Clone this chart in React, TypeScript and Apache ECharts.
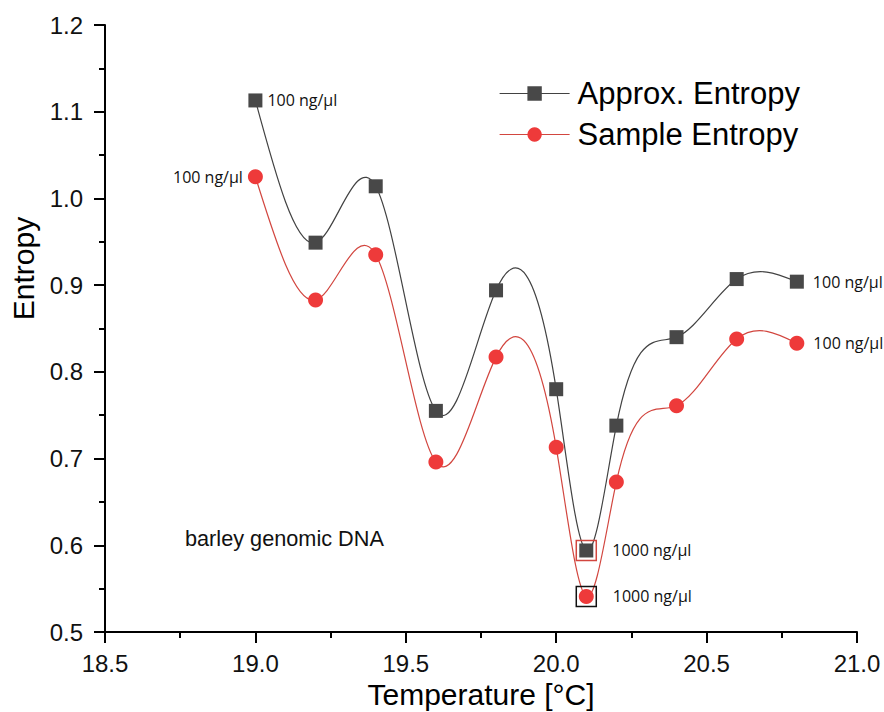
import React, { useEffect, useRef } from "react";
import * as echarts from "echarts";

const temperature = [19.0, 19.2, 19.4, 19.6, 19.8, 20.0, 20.1, 20.2, 20.4, 20.6, 20.8];
const approxEntropy = [1.113, 0.949, 1.014, 0.755, 0.894, 0.78, 0.594, 0.738, 0.84, 0.907, 0.904];
const sampleEntropy = [1.025, 0.883, 0.935, 0.696, 0.817, 0.713, 0.541, 0.673, 0.761, 0.838, 0.833];
const xTicks = [18.5, 21.0, 0.5];
const yTicks = [0.5, 1.2, 0.1];

// point annotations: [index, text, position, distance]
const approxNotes: [number, string, string, number][] = [
  [0, "100 ng/μl", "right", 5],
  [6, "1000 ng/μl", "right", 19],
  [10, "100 ng/μl", "right", 9],
];
const sampleNotes: [number, string, string, number][] = [
  [0, "100 ng/μl", "left", 5],
  [6, "1000 ng/μl", "right", 19],
  [10, "100 ng/μl", "right", 9],
];

const APPROX_LINE = "#424242";
const APPROX_MARK = "#484848";
const SAMPLE_LINE = "#D2463F";
const SAMPLE_MARK = "#EE3A3A";
const FONT = "Liberation Sans, Arial, sans-serif";

function splineSegments(xs: number[], ys: number[]) {
  const n = xs.length;
  const h: number[] = [];
  for (let i = 0; i < n - 1; i++) h.push(xs[i + 1] - xs[i]);
  const a: number[] = new Array(n).fill(0);
  const b: number[] = new Array(n).fill(1);
  const c: number[] = new Array(n).fill(0);
  const d: number[] = new Array(n).fill(0);
  for (let i = 1; i < n - 1; i++) {
    a[i] = h[i - 1];
    b[i] = 2 * (h[i - 1] + h[i]);
    c[i] = h[i];
    d[i] = 6 * ((ys[i + 1] - ys[i]) / h[i] - (ys[i] - ys[i - 1]) / h[i - 1]);
  }
  const cp: number[] = new Array(n).fill(0);
  const dp: number[] = new Array(n).fill(0);
  cp[0] = c[0] / b[0];
  dp[0] = d[0] / b[0];
  for (let i = 1; i < n; i++) {
    const m = b[i] - a[i] * cp[i - 1];
    cp[i] = c[i] / m;
    dp[i] = (d[i] - a[i] * dp[i - 1]) / m;
  }
  const M: number[] = new Array(n).fill(0);
  M[n - 1] = dp[n - 1];
  for (let i = n - 2; i >= 0; i--) M[i] = dp[i] - cp[i] * M[i + 1];
  const segs: number[][] = [];
  for (let i = 0; i < n - 1; i++) {
    const hi = h[i];
    const slope = (ys[i + 1] - ys[i]) / hi;
    const s0 = slope - (hi * (2 * M[i] + M[i + 1])) / 6;
    const s1 = slope + (hi * (M[i] + 2 * M[i + 1])) / 6;
    segs.push([xs[i], ys[i], xs[i + 1], ys[i + 1], s0, s1]);
  }
  return segs;
}

function curveSeries(ys: number[], color: string, width: number) {
  return {
    type: "custom",
    z: 1,
    silent: true,
    encode: { x: [0, 2], y: [1, 3] },
    data: splineSegments(temperature, ys),
    renderItem: (_params: any, api: any) => {
      const x0 = api.value(0);
      const y0 = api.value(1);
      const x1 = api.value(2);
      const y1 = api.value(3);
      const s0 = api.value(4);
      const s1 = api.value(5);
      const hh = x1 - x0;
      const p0 = api.coord([x0, y0]);
      const c1 = api.coord([x0 + hh / 3, y0 + (s0 * hh) / 3]);
      const c2 = api.coord([x1 - hh / 3, y1 - (s1 * hh) / 3]);
      const p1 = api.coord([x1, y1]);
      return {
        type: "bezierCurve",
        shape: {
          x1: p0[0], y1: p0[1],
          cpx1: c1[0], cpy1: c1[1],
          cpx2: c2[0], cpy2: c2[1],
          x2: p1[0], y2: p1[1],
        },
        style: { stroke: color, lineWidth: width, fill: "none" },
      };
    },
  };
}

function pointData(ys: number[], notes: [number, string, string, number][]) {
  return temperature.map((t, i) => {
    const note = notes.find((n) => n[0] === i);
    const item: any = { value: [t, ys[i]] };
    if (note) {
      item.label = {
        show: true,
        formatter: note[1],
        position: note[2],
        distance: note[3],
        color: "#111",
        fontSize: 16,
        fontFamily: "Open Sans, Noto Sans, sans-serif",
      };
    }
    return item;
  });
}

export default function App() {
  const ref = useRef<HTMLDivElement>(null);
  useEffect(() => {
    if (!ref.current) return;
    const chart = echarts.init(ref.current, null, { renderer: "svg" });
    const axisCommon = {
      type: "value",
      axisLine: { show: true, onZero: false, lineStyle: { color: "#000", width: 2 } },
      axisTick: { show: true, inside: false, length: 11, lineStyle: { color: "#000", width: 2 } },
      minorTick: { show: true, splitNumber: 2, length: 6, lineStyle: { color: "#000", width: 2 } },
      splitLine: { show: false },
      minorSplitLine: { show: false },
    };
    chart.setOption({
      animation: false,
      backgroundColor: "#fff",
      grid: {
        left: 105,
        right: 27,
        top: 25,
        bottom: 80,
        containLabel: false,
        outerBoundsMode: "none",
      },
      legend: {
        orient: "vertical",
        left: 494,
        top: 73,
        itemWidth: 70,
        itemHeight: 18,
        itemGap: 10,
        textStyle: { color: "#000", fontSize: 31, fontFamily: FONT, padding: [0, 0, 0, 3] },
        data: [
          { name: "Approx. Entropy", lineStyle: { opacity: 1, width: 1.2, color: APPROX_LINE } },
          { name: "Sample Entropy", lineStyle: { opacity: 1, width: 1.2, color: SAMPLE_LINE } },
        ],
      },
      xAxis: {
        ...axisCommon,
        min: xTicks[0],
        max: xTicks[1],
        interval: xTicks[2],
        name: "Temperature [°C]",
        nameLocation: "middle",
        nameGap: 43,
        nameTextStyle: { color: "#000", fontSize: 30, fontFamily: FONT, verticalAlign: "top" },
        axisLabel: {
          color: "#111",
          fontSize: 24,
          fontFamily: FONT,
          margin: 19,
          formatter: (v: number) => v.toFixed(1),
        },
      },
      yAxis: {
        ...axisCommon,
        min: yTicks[0],
        max: yTicks[1],
        interval: yTicks[2],
        name: "Entropy",
        nameLocation: "middle",
        nameGap: 67,
        nameRotate: 90,
        nameTextStyle: { color: "#000", fontSize: 30, fontFamily: FONT, padding: [0, 0, 0, 120] },
        axisLabel: {
          color: "#111",
          fontSize: 24,
          fontFamily: FONT,
          margin: 22,
          formatter: (v: number) => v.toFixed(1),
        },
      },
      graphic: [
        {
          type: "text",
          left: 185,
          top: 527,
          style: { text: "barley genomic DNA", fill: "#111", fontSize: 21.7, fontFamily: FONT },
        },
      ],
      series: [
        curveSeries(approxEntropy, APPROX_LINE, 1.2),
        curveSeries(sampleEntropy, SAMPLE_LINE, 1.2),
        {
          name: "Approx. Entropy",
          type: "line",
          z: 3,
          data: pointData(approxEntropy, approxNotes),
          symbol: "rect",
          symbolSize: 14,
          itemStyle: { color: APPROX_MARK },
          lineStyle: { color: APPROX_LINE, width: 1.2, opacity: 0 },
          markPoint: {
            symbol: "rect",
            symbolSize: 20,
            silent: true,
            label: { show: false },
            itemStyle: { color: "rgba(0,0,0,0)", borderColor: SAMPLE_LINE, borderWidth: 1.5 },
            data: [{ coord: [temperature[6], approxEntropy[6]] }],
          },
        },
        {
          name: "Sample Entropy",
          type: "line",
          z: 3,
          data: pointData(sampleEntropy, sampleNotes),
          symbol: "circle",
          symbolSize: 15,
          itemStyle: { color: SAMPLE_MARK },
          lineStyle: { color: SAMPLE_LINE, width: 1.2, opacity: 0 },
          markPoint: {
            symbol: "rect",
            symbolSize: 20,
            silent: true,
            label: { show: false },
            itemStyle: { color: "rgba(0,0,0,0)", borderColor: "#111", borderWidth: 1.5 },
            data: [{ coord: [temperature[6], sampleEntropy[6]] }],
          },
        },
      ],
    });
    return () => chart.dispose();
  }, []);
  return (
    <div
      ref={ref}
      style={{ position: "absolute", left: 0, top: 0, width: 884, height: 712 }}
    />
  );
}
